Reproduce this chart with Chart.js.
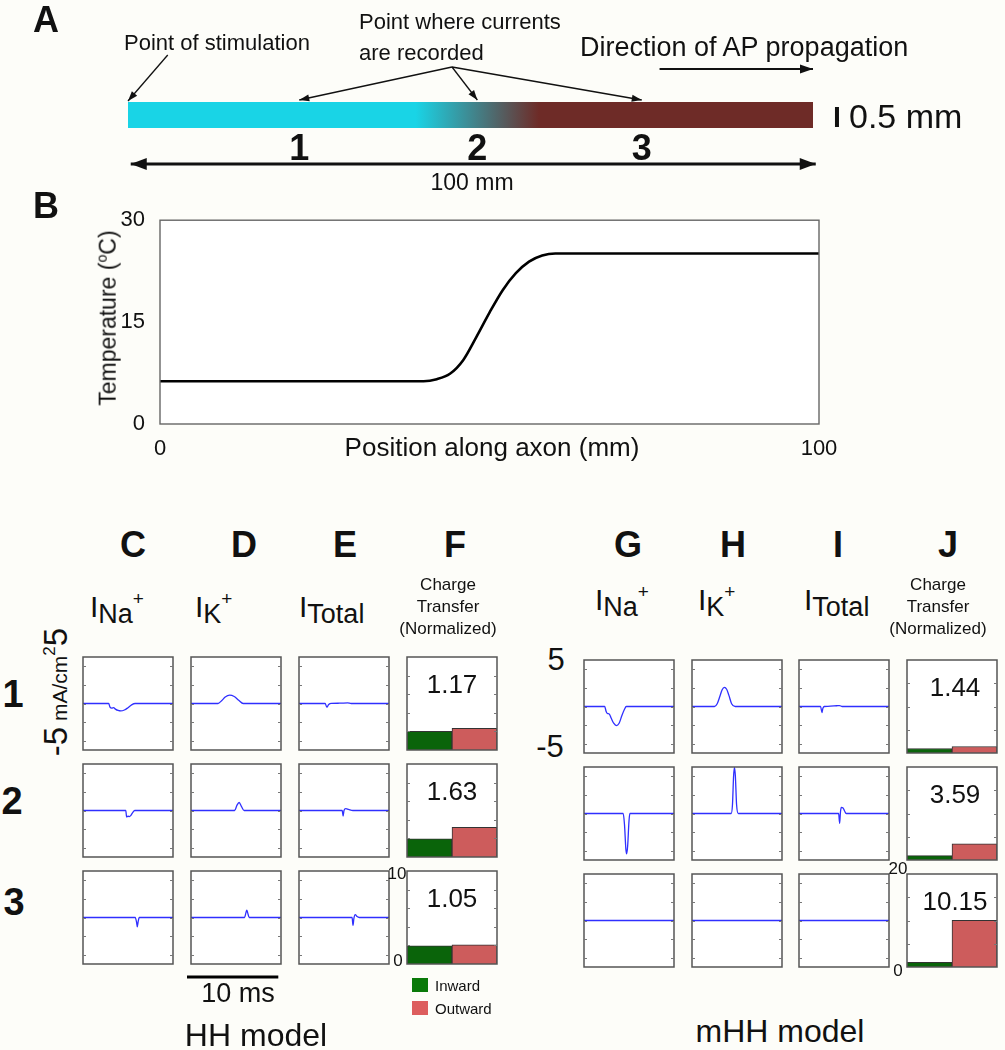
<!DOCTYPE html>
<html>
<head>
<meta charset="utf-8">
<script src="https://cdn.jsdelivr.net/npm/chart.js@4.4.1/dist/chart.umd.min.js"></script>
<style>
  body { margin: 0; background: #fdfdf9; }
  #fig { position: relative; width: 1005px; height: 1050px; overflow: hidden;
         font-family: "Liberation Sans", Arial, sans-serif; color: #111; }
  #fig canvas { position: absolute; }
  .t { position: absolute; white-space: nowrap; line-height: 1; transform: translate(-50%, -50%); }
  .l { transform: translate(0, -50%); }
  .b { font-weight: bold; }
</style>
</head>
<body>
<div id="fig"></div>
<script>
// ---- data ----
// temperature along the axon (panel B)
const tempPos = [0, 40, 42, 44, 46, 48, 50, 52, 54, 56, 58, 60, 100];
const tempVal = [6.3, 6.3, 6.6, 7.4, 9.4, 12.8, 16.4, 19.7, 22.2, 23.9, 24.8, 25.1, 25.1];
const tempTicks = [0, 15, 30];

// axon schematic (panel A), positions in mm
const axonLength = 100;
const recordPoints = [25, 51, 75];
const coldEnd = 42;
const warmStart = 60;

// currents in mA/cm2 vs time in ms, one entry per recording point (rows 1-3)
const hhNaT = [
  [0, 2.85, 3.0, 3.2, 3.4, 3.6, 3.9, 4.2, 4.6, 5.0, 5.4, 5.8, 10],
  [0, 4.75, 4.85, 5.0, 5.15, 5.3, 5.5, 5.75, 10],
  [0, 5.8, 5.95, 6.03, 6.12, 6.25, 10]
];
const hhNaI = [
  [0, 0, -0.4, -0.5, -0.45, -0.6, -0.75, -0.8, -0.7, -0.45, -0.15, 0, 0],
  [0, 0, -0.7, -0.6, -0.65, -0.55, -0.25, 0, 0],
  [0, 0, -0.5, -1.0, -0.5, 0, 0]
];
const hhKT = [
  [0, 3.0, 3.4, 3.8, 4.3, 4.8, 5.3, 5.8, 10],
  [0, 4.85, 5.1, 5.35, 5.6, 5.9, 10],
  [0, 5.95, 6.1, 6.2, 6.3, 6.47, 10]
];
const hhKI = [
  [0, 0, 0.3, 0.7, 0.9, 0.75, 0.35, 0, 0],
  [0, 0, 0.55, 0.86, 0.45, 0, 0],
  [0, 0, 0.5, 0.8, 0.5, 0, 0]
];
const hhTotT = [
  [0, 2.9, 3.1, 3.3, 3.6, 4.5, 5.4, 5.8, 10],
  [0, 4.8, 4.9, 5.0, 5.2, 5.5, 6.0, 10],
  [0, 5.9, 6.0, 6.1, 6.25, 6.45, 6.7, 10]
];
const hhTotI = [
  [0, 0, -0.4, -0.1, 0.02, 0.03, 0.07, 0, 0],
  [0, 0, -0.6, 0.0, 0.2, 0.12, 0, 0],
  [0, 0, -0.85, -0.1, 0.3, 0.1, 0, 0]
];
const mhhNaT = [
  [0, 2.3, 2.45, 2.6, 2.8, 3.0, 3.3, 3.6, 3.9, 4.2, 4.5, 4.7, 10],
  [0, 4.35, 4.5, 4.65, 4.74, 4.85, 5.0, 5.1, 10],
  [0, 10]
];
const mhhNaI = [
  [0, 0, -0.5, -0.75, -0.8, -1.2, -1.8, -2.05, -1.8, -1.0, -0.3, 0, 0],
  [0, 0, -1.2, -3.8, -4.35, -3.5, -0.8, 0, 0],
  [0, 0]
];
const mhhKT = [
  [0, 2.5, 2.8, 3.1, 3.35, 3.6, 3.85, 4.1, 4.4, 4.8, 10],
  [0, 4.35, 4.5, 4.62, 4.72, 4.82, 4.95, 5.15, 10],
  [0, 10]
];
const mhhKI = [
  [0, 0, 0.3, 1.1, 1.8, 2.05, 1.85, 1.2, 0.3, 0, 0],
  [0, 0, 1.0, 4.0, 4.95, 4.0, 1.0, 0, 0],
  [0, 0]
];
const mhhTotT = [
  [0, 2.4, 2.55, 2.65, 2.8, 3.2, 4.2, 4.5, 4.8, 10],
  [0, 4.4, 4.52, 4.6, 4.7, 4.9, 5.05, 5.25, 10],
  [0, 10]
];
const mhhTotI = [
  [0, 0, -0.65, -0.2, 0, 0.02, 0.08, 0.1, 0, 0],
  [0, 0, -1.05, 0.1, 0.65, 0.6, 0.3, 0, 0],
  [0, 0]
];
const currentTicks = [-4, -2, 0, 2, 4];
const scaleBarMs = [-0.5, 9.7];

// charge transfer (normalized), rows 1-3
const chargeLabels = ['Inward', 'Outward'];
const hhInward = [2.0, 1.95, 1.95];
const hhOutward = [2.34, 3.18, 2.05];
const hhRatio = ['1.17', '1.63', '1.05'];
const mhhInward = [0.97, 0.95, 0.99];
const mhhOutward = [1.4, 3.5, 10.05];
const mhhRatio = ['1.44', '3.59', '10.15'];
const hhChargeTicks = [2, 4, 6, 8];
const mhhChargeTicks = [5, 10, 15];

// ---- setup ----
const fig = document.getElementById('fig');
const BLUE = '#2f2fff';
const GREEN = '#0a640a';
const RED = '#cd5c5c';

Chart.defaults.font.family = '"Liberation Sans", Arial, sans-serif';
Chart.defaults.color = '#111';
Chart.defaults.animation = false;
Chart.defaults.responsive = false;
Chart.defaults.devicePixelRatio = 1;
Chart.defaults.plugins.legend.display = false;
Chart.defaults.plugins.tooltip.enabled = false;
Chart.defaults.events = [];

// white plot area, box border and inward ticks on both sides
const framePlugin = {
  id: 'frame',
  beforeDraw(chart) {
    const { ctx, chartArea: a } = chart;
    ctx.save();
    ctx.fillStyle = '#fff';
    ctx.fillRect(a.left, a.top, a.right - a.left, a.bottom - a.top);
    ctx.restore();
  },
  afterDraw(chart, args, opts) {
    const { ctx, chartArea: a, scales } = chart;
    ctx.save();
    ctx.strokeStyle = opts.color || '#555';
    ctx.lineWidth = opts.width || 1.5;
    ctx.strokeRect(a.left, a.top, a.right - a.left, a.bottom - a.top);
    ctx.lineWidth = 1;
    ctx.strokeStyle = '#777';
    (opts.ticks || []).forEach((v) => {
      const y = Math.round(scales.y.getPixelForValue(v)) + 0.5;
      ctx.beginPath();
      ctx.moveTo(a.left, y); ctx.lineTo(a.left + 3, y);
      ctx.moveTo(a.right, y); ctx.lineTo(a.right - 3, y);
      ctx.stroke();
    });
    ctx.restore();
  }
};

// arrow heads at the ends of line datasets
const arrowPlugin = {
  id: 'arrows',
  afterDatasetsDraw(chart) {
    const ctx = chart.ctx;
    chart.data.datasets.forEach((ds, i) => {
      if (!ds.arrow) return;
      const pts = chart.getDatasetMeta(i).data;
      const head = (p, q) => {
        const ang = Math.atan2(p.y - q.y, p.x - q.x);
        const L = ds.headLen || 11, W = ds.headWid || 4;
        ctx.beginPath();
        ctx.moveTo(p.x, p.y);
        ctx.lineTo(p.x - L * Math.cos(ang) + W * Math.sin(ang), p.y - L * Math.sin(ang) - W * Math.cos(ang));
        ctx.lineTo(p.x - L * Math.cos(ang) - W * Math.sin(ang), p.y - L * Math.sin(ang) + W * Math.cos(ang));
        ctx.closePath();
        ctx.fill();
      };
      ctx.save();
      ctx.fillStyle = ds.borderColor;
      const n = pts.length;
      head(pts[n - 1], pts[n - 2]);
      if (ds.arrow === 'both') head(pts[0], pts[1]);
      ctx.restore();
    });
  }
};

function makeCanvas(x, y, w, h) {
  const c = document.createElement('canvas');
  c.width = w; c.height = h;
  c.style.left = x + 'px'; c.style.top = y + 'px';
  fig.appendChild(c);
  return c;
}

function txt(html, x, y, size, cls, style) {
  const d = document.createElement('div');
  d.className = 't ' + (cls || '');
  d.innerHTML = html;
  d.style.left = x + 'px';
  d.style.top = y + 'px';
  d.style.fontSize = size + 'px';
  if (style) Object.assign(d.style, style);
  fig.appendChild(d);
  return d;
}

// ---- panel A: axon schematic ----
const seg = (x0, y0, x1, y1) => [{ x: x0, y: y0 }, { x: x1, y: y1 }];
const lineDs = (data, w, extra) => Object.assign({
  data, borderColor: '#111', borderWidth: w, pointRadius: 0, clip: false, borderCapStyle: 'butt'
}, extra || {});

new Chart(makeCanvas(0, 0, 1005, 200), {
  type: 'line',
  data: {
    datasets: [
      lineDs(seg(0, 115, axonLength, 115), 26, {
        borderColor(ctx) {
          const { chart } = ctx;
          if (!chart.chartArea) return '#19d4e6';
          const xs = chart.scales.x;
          const g = chart.ctx.createLinearGradient(xs.getPixelForValue(0), 0, xs.getPixelForValue(axonLength), 0);
          g.addColorStop(0, '#19d4e6');
          g.addColorStop(coldEnd / axonLength, '#19d4e6');
          g.addColorStop(warmStart / axonLength, '#6e2b27');
          g.addColorStop(1, '#6e2b27');
          return g;
        }
      }),
      lineDs(seg(0.4, 164, axonLength + 0.4, 164), 3, { arrow: 'both', headLen: 16, headWid: 6 }),
      lineDs(seg(77.6, 69, 100, 69), 2, { arrow: 'end', headLen: 13, headWid: 4.5 }),
      lineDs(seg(5.8, 55, 0, 101), 1.3, { arrow: 'end', headLen: 10, headWid: 3.5 }),
      ...recordPoints.map((p) => lineDs(seg(47.3, 67, p, 100), 1.3, { arrow: 'end', headLen: 10, headWid: 3.5 })),
      lineDs(seg(103.5, 107, 103.5, 127), 4)
    ]
  },
  options: {
    layout: { padding: { left: 128, right: 192, top: 0, bottom: 0 } },
    scales: {
      x: { type: 'linear', min: 0, max: axonLength, display: false },
      y: { type: 'linear', min: 0, max: 200, reverse: true, display: false }
    },
    plugins: { frame: false }
  },
  plugins: [arrowPlugin]
});

txt('A', 46, 20, 36, 'b');
txt('Point of stimulation', 124, 43, 22, 'l');
txt('Point where currents', 359, 22, 22, 'l');
txt('are recorded', 359, 53, 22, 'l');
txt('Direction of AP propagation', 580, 47, 27, 'l');
txt('0.5 mm', 849, 116, 34, 'l');
recordPoints.forEach((p, k) => txt(String(k + 1), 128 + p * 6.85, 148, 36, 'b'));
txt('100 mm', 472, 182, 23);

// ---- panel B: temperature profile ----
txt('B', 46, 206, 36, 'b');
new Chart(makeCanvas(100, 200, 760, 280), {
  type: 'line',
  data: {
    datasets: [{
      data: tempPos.map((x, k) => ({ x, y: tempVal[k] })),
      borderColor: '#000', borderWidth: 2.6, pointRadius: 0,
      cubicInterpolationMode: 'monotone'
    }]
  },
  options: {
    layout: { padding: { left: 10, right: 41, top: 9, bottom: 16 } },
    scales: {
      x: {
        type: 'linear', min: 0, max: 100,
        afterFit: (s) => { s.height = 40; },
        grid: { display: false }, border: { display: false },
        ticks: { stepSize: 100, padding: 4, font: { size: 22 }, maxRotation: 0 }
      },
      y: {
        type: 'linear', min: 0, max: 30,
        afterFit: (s) => { s.width = 50; },
        grid: { display: false }, border: { display: false },
        afterBuildTicks: (s) => { s.ticks = tempTicks.map((v) => ({ value: v })); },
        ticks: { padding: 7, font: { size: 22 } }
      }
    },
    plugins: { frame: { color: '#666', width: 1.4 } }
  },
  plugins: [framePlugin]
});
txt('Temperature (<sup style="font-size:0.62em">o</sup>C)', 107, 318, 23, '', { transform: 'translate(-50%,-50%) rotate(-90deg)' });
txt('Position along axon (mm)', 492, 447, 26);

// ---- panels C-J ----
const boxW = 90, boxH = 93;
const hhColX = [83, 191, 299, 407];
const hhRowY = [657, 764, 871];
const mhhColX = [584, 692, 799, 907];
const mhhRowY = [660, 767, 874];

function traceChart(x, y, t, cur, withBar) {
  const extra = withBar ? 24 : 0;
  const datasets = [{
    data: t.map((v, k) => ({ x: v, y: cur[k] })),
    borderColor: BLUE, borderWidth: 1.3, pointRadius: 0,
    cubicInterpolationMode: 'monotone'
  }];
  if (withBar) {
    datasets.push({
      data: [{ x: scaleBarMs[0], y: -6.4 }, { x: scaleBarMs[1], y: -6.4 }],
      borderColor: '#000', borderWidth: 3, pointRadius: 0, clip: false
    });
  }
  new Chart(makeCanvas(x - 4, y - 4, boxW + 8, boxH + 8 + extra), {
    type: 'line',
    data: { datasets },
    options: {
      layout: { padding: { left: 4, right: 4, top: 4, bottom: 4 + extra } },
      scales: {
        x: { type: 'linear', min: 0, max: 10, display: false },
        y: { type: 'linear', min: -5, max: 5, display: false }
      },
      plugins: { frame: { ticks: currentTicks } }
    },
    plugins: [framePlugin]
  });
}

function chargeChart(x, y, inward, outward, max, ticks) {
  new Chart(makeCanvas(x - 4, y - 4, boxW + 8, boxH + 8), {
    type: 'bar',
    data: {
      labels: chargeLabels,
      datasets: [{
        data: [inward, outward],
        backgroundColor: [GREEN, RED],
        borderColor: '#333', borderWidth: 1,
        barPercentage: 1, categoryPercentage: 1
      }]
    },
    options: {
      layout: { padding: 4 },
      scales: {
        x: { display: false },
        y: { min: 0, max, display: false }
      },
      plugins: { frame: { ticks } }
    },
    plugins: [framePlugin]
  });
}

for (let r = 0; r < 3; r++) {
  traceChart(hhColX[0], hhRowY[r], hhNaT[r], hhNaI[r]);
  traceChart(hhColX[1], hhRowY[r], hhKT[r], hhKI[r], r === 2);
  traceChart(hhColX[2], hhRowY[r], hhTotT[r], hhTotI[r]);
  chargeChart(hhColX[3], hhRowY[r], hhInward[r], hhOutward[r], 10, hhChargeTicks);
  txt(hhRatio[r], hhColX[3] + boxW / 2, hhRowY[r] + 27, 26);

  traceChart(mhhColX[0], mhhRowY[r], mhhNaT[r], mhhNaI[r]);
  traceChart(mhhColX[1], mhhRowY[r], mhhKT[r], mhhKI[r]);
  traceChart(mhhColX[2], mhhRowY[r], mhhTotT[r], mhhTotI[r]);
  chargeChart(mhhColX[3], mhhRowY[r], mhhInward[r], mhhOutward[r], 20, mhhChargeTicks);
  txt(mhhRatio[r], mhhColX[3] + boxW / 2 + 3, mhhRowY[r] + 27, 26);
}

// column letters
[['C', 133], ['D', 244], ['E', 345], ['F', 455], ['G', 628], ['H', 733], ['I', 838], ['J', 948]]
  .forEach(([s, x]) => txt(s, x, 545, 36, 'b'));

// current headers
function header(sub, sup, x, top) {
  const html = '<span style="font-size:30px">I</span>' +
    '<span style="font-size:27px;position:relative;top:6px">' + sub + '</span>' +
    (sup ? '<span style="font-size:19px;position:relative;top:-12px">' + sup + '</span>' : '');
  txt(html, x, top, 30, 'l', { transform: 'none' });
}
header('Na', '+', 90, 592);
header('K', '+', 195, 592);
header('Total', '', 299, 592);
header('Na', '+', 595, 585);
header('K', '+', 698, 585);
header('Total', '', 804, 585);

[448, 938].forEach((x) => {
  txt('Charge', x, 584, 17);
  txt('Transfer', x, 606, 17);
  txt('(Normalized)', x, 628, 17);
});

// row numbers
txt('1', 13, 694, 38, 'b');
txt('2', 12, 801, 38, 'b');
txt('3', 14, 902, 38, 'b');

// current axis labels
txt('<span style="font-size:33px">-5</span> mA/cm<sup style="font-size:17px;position:relative;top:-4px">2</sup><span style="font-size:33px">5</span>',
  55, 692, 21, '', { transform: 'translate(-50%,-50%) rotate(-90deg)' });
txt('5', 556, 659, 31);
txt('-5', 550, 746, 31);

// charge axis labels
txt('10', 397, 873, 17);
txt('0', 398, 960, 17);
txt('20', 898, 868, 17);
txt('0', 898, 970, 17);

// legend
[['Inward', '#0a7a0a', 985], ['Outward', '#dd5e5e', 1008]].forEach(([s, c, y]) => {
  const sw = document.createElement('div');
  Object.assign(sw.style, { position: 'absolute', left: '412px', top: (y - 7) + 'px', width: '16px', height: '14px', background: c });
  fig.appendChild(sw);
  txt(s, 435, y, 15, 'l');
});

// scale bar label and model titles
txt('10 ms', 238, 993, 27);
txt('HH model', 256, 1035, 32);
txt('mHH model', 780, 1031, 32);
</script>
</body>
</html>
